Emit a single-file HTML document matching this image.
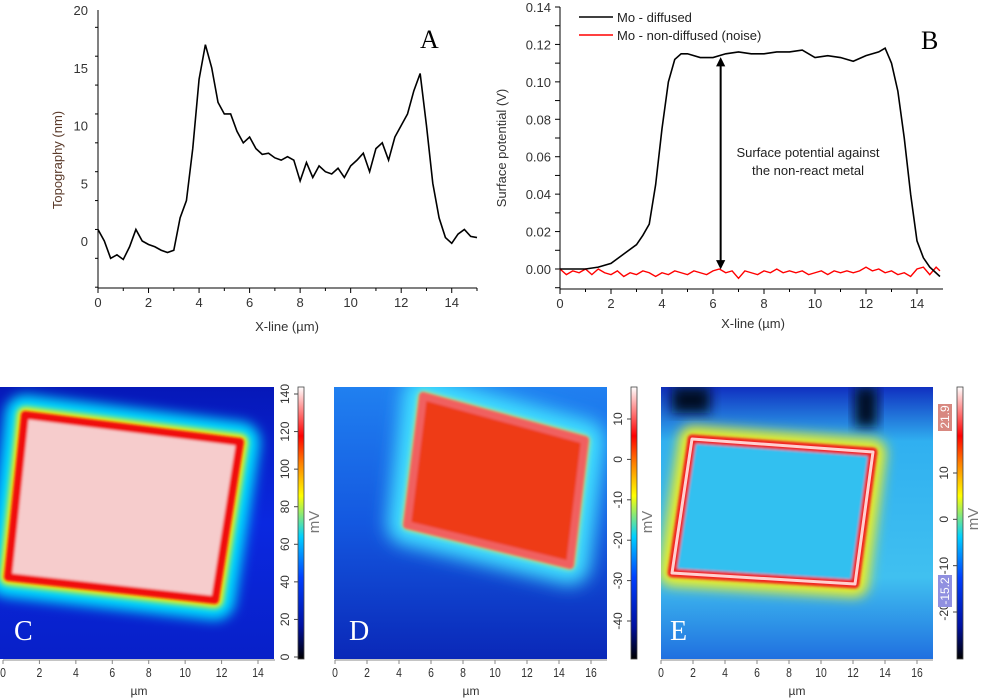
<!DOCTYPE html>
<html><head><meta charset="utf-8">
<style>
html,body{margin:0;padding:0;background:#fff;}
svg{display:block;font-family:"Liberation Sans",sans-serif;}
</style></head>
<body>
<svg id="fig" width="982" height="698" viewBox="0 0 982 698" xmlns="http://www.w3.org/2000/svg">
<defs>
  <filter id="blur8" x="-30%" y="-30%" width="160%" height="160%"><feGaussianBlur stdDeviation="9"/></filter>
  <filter id="blur6" x="-30%" y="-30%" width="160%" height="160%"><feGaussianBlur stdDeviation="6"/></filter>
  <filter id="blur3" x="-30%" y="-30%" width="160%" height="160%"><feGaussianBlur stdDeviation="3"/></filter>
  <filter id="blur1" x="-30%" y="-30%" width="160%" height="160%"><feGaussianBlur stdDeviation="1.2"/></filter>
  <linearGradient id="cbar" x1="0" y1="1" x2="0" y2="0">
    <stop offset="0" stop-color="#000"/>
    <stop offset="0.12" stop-color="#0010a0"/>
    <stop offset="0.3" stop-color="#0040ff"/>
    <stop offset="0.45" stop-color="#00d0ff"/>
    <stop offset="0.6" stop-color="#ffff00"/>
    <stop offset="0.72" stop-color="#ff8000"/>
    <stop offset="0.82" stop-color="#ff0000"/>
    <stop offset="1" stop-color="#ffffff"/>
  </linearGradient>
  <linearGradient id="bgC" x1="0" y1="0" x2="0" y2="1">
    <stop offset="0" stop-color="#0618b8"/>
    <stop offset="0.5" stop-color="#0a28e0"/>
    <stop offset="1" stop-color="#0820c8"/>
  </linearGradient>
  <linearGradient id="bgD" x1="0" y1="0" x2="0" y2="1">
    <stop offset="0" stop-color="#2080f0"/>
    <stop offset="0.5" stop-color="#1458e0"/>
    <stop offset="1" stop-color="#0a28b8"/>
  </linearGradient>
  <linearGradient id="bgE" x1="0" y1="0" x2="0" y2="1">
    <stop offset="0" stop-color="#1030c0"/>
    <stop offset="0.2" stop-color="#30b0f0"/>
    <stop offset="0.7" stop-color="#40c0f0"/>
    <stop offset="1" stop-color="#2070e0"/>
  </linearGradient>
</defs>
<g id="chartA"></g>
<g id="chartB"></g>

<!-- Heatmap C -->
<g>
  <clipPath id="clipC"><rect x="0" y="387" width="274" height="272"/></clipPath>
  <g clip-path="url(#clipC)">
    <rect x="0" y="387" width="274" height="272" fill="url(#bgC)"/>
    <polygon points="25,415 240,442 215,600 8,577" fill="none" stroke="#00e0ff" stroke-width="40" stroke-linejoin="round" filter="url(#blur6)"/>
    <polygon points="25,415 240,442 215,600 8,577" fill="none" stroke="#ffee00" stroke-width="16" stroke-linejoin="round" filter="url(#blur3)"/>
    <polygon points="25,415 240,442 215,600 8,577" fill="#f6cccc" stroke="#f01010" stroke-width="8" stroke-linejoin="round" filter="url(#blur1)"/>
  </g>
  <text x="14" y="640" font-family="Liberation Serif,serif" font-size="28" fill="#fff">C</text>
</g>
<!-- Heatmap D -->
<g>
  <clipPath id="clipD"><rect x="334" y="387" width="273" height="272"/></clipPath>
  <g clip-path="url(#clipD)">
    <rect x="334" y="387" width="273" height="272" fill="url(#bgD)"/>
    <polygon points="423,396 585,440 570,565 407,525" fill="none" stroke="#40e0ff" stroke-width="40" stroke-linejoin="round" filter="url(#blur8)"/>
    <polygon points="423,396 585,440 570,565 407,525" fill="none" stroke="#f0f040" stroke-width="8" stroke-linejoin="round" filter="url(#blur3)"/>
    <polygon points="423,396 585,440 570,565 407,525" fill="#ee3a14" stroke="#f06060" stroke-width="8" stroke-linejoin="round" filter="url(#blur1)"/>
  </g>
  <text x="349" y="640" font-family="Liberation Serif,serif" font-size="28" fill="#fff">D</text>
</g>
<!-- Heatmap E -->
<g>
  <clipPath id="clipE"><rect x="661" y="387" width="272" height="272"/></clipPath>
  <g clip-path="url(#clipE)">
    <rect x="661" y="387" width="272" height="272" fill="url(#bgE)"/>
    <rect x="672" y="387" width="38" height="26" fill="#000820" filter="url(#blur6)"/>
    <rect x="855" y="387" width="22" height="40" fill="#000820" filter="url(#blur6)"/>
    <polygon points="692,439 873,452 855,584 672,573" fill="none" stroke="#f0f020" stroke-width="26" stroke-linejoin="round" filter="url(#blur6)"/>
    <polygon points="692,439 873,452 855,584 672,573" fill="#30c0f0" stroke="#f02020" stroke-width="9" stroke-linejoin="round" filter="url(#blur1)"/>
    <polygon points="692,439 873,452 855,584 672,573" fill="none" stroke="#ffd0d0" stroke-width="3" stroke-linejoin="round"/>
  </g>
  <text x="670" y="640" font-family="Liberation Serif,serif" font-size="28" fill="#fff">E</text>
</g>
<g id="colorbars"></g>
<g id="heataxes"></g>
</svg>
<script>
// ===== Data: Topography (panel A) =====
const topoX = [0,0.25,0.5,0.75,1,1.25,1.5,1.75,2,2.25,2.5,2.75,3,3.25,3.5,3.75,4,4.25,4.5,4.75,5,5.25,5.5,5.75,6,6.25,6.5,6.75,7,7.25,7.5,7.75,8,8.25,8.5,8.75,9,9.25,9.5,9.75,10,10.25,10.5,10.75,11,11.25,11.5,11.75,12,12.25,12.5,12.75,13,13.25,13.5,13.75,14,14.25,14.5,14.75,15];
const topoY = [1,0,-1.5,-1.2,-1.6,-0.5,1,0,-0.3,-0.5,-0.8,-1,-0.8,2,3.5,8,14,17,15,12,11,11,9.5,8.5,9,8,7.5,7.6,7.2,7,7.3,7,5.2,6.8,5.5,6.5,6,5.8,6.3,5.5,6.5,7,7.6,6,8,8.5,7,9,10,11,13,14.5,10,5,2,0.3,-0.2,0.6,1,0.4,0.3];
const topoXTicks = [0,2,4,6,8,10,12,14];
const topoYTicks = [0,5,10,15,20];
// ===== Data: Surface potential (panel B) =====
const spX = [0,0.5,1,1.5,2,2.5,3,3.25,3.5,3.75,4,4.25,4.5,4.75,5,5.5,6,6.5,7,7.5,8,8.5,9,9.5,10,10.5,11,11.5,12,12.5,12.75,13,13.25,13.5,13.75,14,14.25,14.5,14.9];
const spDiffused = [0,0,0,0.001,0.003,0.008,0.013,0.018,0.024,0.045,0.075,0.1,0.112,0.115,0.115,0.113,0.113,0.115,0.116,0.115,0.115,0.116,0.116,0.117,0.113,0.114,0.113,0.111,0.114,0.116,0.118,0.11,0.095,0.07,0.04,0.015,0.006,0.001,-0.004];
const noiseX = [0,0.25,0.5,0.75,1,1.25,1.5,1.75,2,2.25,2.5,2.75,3,3.25,3.5,3.75,4,4.25,4.5,4.75,5,5.25,5.5,5.75,6,6.25,6.5,6.75,7,7.25,7.5,7.75,8,8.25,8.5,8.75,9,9.25,9.5,9.75,10,10.25,10.5,10.75,11,11.25,11.5,11.75,12,12.25,12.5,12.75,13,13.25,13.5,13.75,14,14.25,14.5,14.75,14.9];
const noiseY = [0,-0.003,-0.001,-0.002,0,-0.003,0,-0.002,-0.003,-0.001,-0.004,-0.002,-0.003,-0.001,-0.002,-0.004,-0.002,-0.003,-0.001,-0.002,-0.003,-0.001,-0.002,-0.003,-0.001,0,-0.002,-0.001,-0.005,-0.001,-0.002,-0.003,-0.001,-0.002,0,-0.002,-0.001,-0.002,-0.001,-0.003,-0.002,-0.001,-0.003,-0.001,-0.002,-0.001,-0.002,-0.001,0.001,-0.001,0,-0.002,-0.001,-0.003,-0.002,-0.004,0,0.001,-0.003,0.001,-0.001];
const spXTicks = [0,2,4,6,8,10,12,14];
const spYTicks = [0,0.02,0.04,0.06,0.08,0.10,0.12,0.14];
// ===== Heatmap axis/colorbar labels =====
const umTicks15 = [0,2,4,6,8,10,12,14];
const umTicks17 = [0,2,4,6,8,10,12,14,16];
const cbarC = [0,20,40,60,80,100,120,140];
const cbarD = [10,0,-10,-20,-30,-40];
const cbarE = [10,0,-10,-20];

const NS = "http://www.w3.org/2000/svg";
function mk(parent, tag, attrs, text){
  const e = document.createElementNS(NS, tag);
  for (const k in attrs) e.setAttribute(k, attrs[k]);
  if (text !== undefined) e.textContent = text;
  parent.appendChild(e);
  return e;
}
function lin(d0,d1,r0,r1){ return v => r0 + (v-d0)/(d1-d0)*(r1-r0); }

// ---------- Panel A ----------
(function(){
  const g = document.getElementById('chartA');
  const x = lin(0,15,98,477), y = lin(0,20,241,10);
  const ax = mk(g,'path',{d:`M98,10 V288 H477`,stroke:'#000',fill:'none','stroke-width':1});
  
  
  for (let v=0; v<=15; v++){ const t=mk(g,'line',{x1:x(v),x2:x(v),y1:288,y2:v%2?291:293,stroke:'#000'});   }
  topoXTicks.forEach(v=>{ const t=mk(g,'text',{x:x(v),y:307,'text-anchor':'middle','font-size':13,fill:'#333'},v);   });
  for (let v=-4; v<=20; v+=2.5){ const t=mk(g,'line',{x1:v%5===0?93:95,x2:98,y1:y(v),y2:y(v),stroke:'#000'});   }
  topoYTicks.forEach(v=>{ const t=mk(g,'text',{x:88,y:y(v)+5,'text-anchor':'end','font-size':13,fill:'#333'},v);   });
  let t=mk(g,'text',{x:287,y:331,'text-anchor':'middle','font-size':13,fill:'#333'},'X-line (µm)');
   
  t=mk(g,'text',{transform:'translate(62,160) rotate(-90)','text-anchor':'middle','font-size':13,fill:'#5a3a2a'},'Topography (nm)');
   
  t=mk(g,'text',{x:420,y:48,'font-family':'Liberation Serif,serif','font-size':26,fill:'#000'},'A');
   
  const p=mk(g,'polyline',{points:topoX.map((v,i)=>x(v)+','+y(topoY[i])).join(' '),fill:'none',stroke:'#000','stroke-width':1.6});
   
})();

// ---------- Panel B ----------
(function(){
  const g = document.getElementById('chartB');
  const x = lin(0,14,560,917), y = lin(0,0.14,269,7);
  const ax = mk(g,'path',{d:`M560,7 V289 H943`,stroke:'#000',fill:'none','stroke-width':1});
   
  for (let v=0; v<=14.9; v++){ const t=mk(g,'line',{x1:x(v),x2:x(v),y1:289,y2:v%2?292:294,stroke:'#000'});   }
  spXTicks.forEach(v=>{ const t=mk(g,'text',{x:x(v),y:308,'text-anchor':'middle','font-size':13,fill:'#333'},v);   });
  for (let v=-0.01; v<=0.1401; v+=0.01){ const t=mk(g,'line',{x1:555,x2:560,y1:y(v),y2:y(v),stroke:'#000'});   }
  spYTicks.forEach(v=>{ const t=mk(g,'text',{x:551,y:y(v)+5,'text-anchor':'end','font-size':13,fill:'#333'},v.toFixed(2));   });
  let t=mk(g,'text',{x:753,y:328,'text-anchor':'middle','font-size':13,fill:'#333'},'X-line (µm)');
   
  t=mk(g,'text',{transform:'translate(506,148) rotate(-90)','text-anchor':'middle','font-size':13,fill:'#333'},'Surface potential (V)');
   
  t=mk(g,'text',{x:921,y:49,'font-family':'Liberation Serif,serif','font-size':26,fill:'#000'},'B');
   
  let l=mk(g,'line',{x1:579,x2:613,y1:17,y2:17,stroke:'#000','stroke-width':1.6});  
  t=mk(g,'text',{x:617,y:22,'font-size':13,fill:'#222'},'Mo - diffused');  
  l=mk(g,'line',{x1:579,x2:613,y1:35,y2:35,stroke:'#f00','stroke-width':1.6});  
  t=mk(g,'text',{x:617,y:40,'font-size':13,fill:'#222'},'Mo - non-diffused (noise)');  
  let p=mk(g,'polyline',{points:noiseX.map((v,i)=>x(v)+','+y(noiseY[i])).join(' '),fill:'none',stroke:'#f00','stroke-width':1.4});
   
  p=mk(g,'polyline',{points:spX.map((v,i)=>x(v)+','+y(spDiffused[i])).join(' '),fill:'none',stroke:'#000','stroke-width':1.6});
   
  const ax0=x(6.3), ya=y(0.112), yb=y(0.001);
  p=mk(g,'path',{d:`M${ax0},${ya+4} V${yb-4} M${ax0-3},${ya+6} L${ax0},${ya} L${ax0+3},${ya+6} Z M${ax0-3},${yb-6} L${ax0},${yb} L${ax0+3},${yb-6} Z`,stroke:'#000','stroke-width':2,fill:'#000'});
   
  t=mk(g,'text',{x:808,y:157,'text-anchor':'middle','font-size':13,fill:'#222'},'Surface potential against');
   
  t=mk(g,'text',{x:808,y:175,'text-anchor':'middle','font-size':13,fill:'#222'},'the non-react metal');
   
})();

// ---------- Colorbars ----------
(function(){
  const g=document.getElementById('colorbars');
  function bar(x0, labels, yOf, name, mvY){
    const r=mk(g,'rect',{x:x0,y:387,width:6,height:272,fill:'url(#cbar)',stroke:'#444','stroke-width':0.8});
     
    labels.forEach(v=>{
      const yy=yOf(v);
      mk(g,'line',{x1:x0-4,x2:x0,y1:yy,y2:yy,stroke:'#444'});
      const t=mk(g,'text',{transform:`translate(${x0-9},${yy}) rotate(-90)`,'text-anchor':'middle','font-size':12,fill:'#333'},v);
       
    });
    const t=mk(g,'text',{transform:`translate(${x0+21},${mvY}) rotate(-90)`,'text-anchor':'middle','font-size':15,fill:'#777'},'mV');
     
  }
  bar(298, cbarC, lin(0,140,657,394), 'colorbar-c', 522);
  bar(631, cbarD, lin(10,-40,419,621), 'colorbar-d', 522);
  bar(957, cbarE, lin(10,-20,473,612), 'colorbar-e', 519);
  let r=mk(g,'rect',{x:938,y:404,width:14,height:27,fill:'#d88880'});  
  let t=mk(g,'text',{transform:'translate(949,417) rotate(-90)','text-anchor':'middle','font-size':12,fill:'#fff'},'21.9');  
  r=mk(g,'rect',{x:938,y:575,width:14,height:32,fill:'#9090e0'});  
  t=mk(g,'text',{transform:'translate(949,591) rotate(-90)','text-anchor':'middle','font-size':12,fill:'#fff'},'-15.2');  
})();

// ---------- Heatmap x axes ----------
(function(){
  const g=document.getElementById('heataxes');
  function axis(x0, x1, maxV, ticks, name){
    const x=lin(0,maxV,x0,x1);
    const l=mk(g,'line',{x1:x0,x2:x0+272,y1:660,y2:660,stroke:'#888'});  
    ticks.forEach(v=>{
      mk(g,'line',{x1:x(v),x2:x(v),y1:660,y2:664,stroke:'#888'});
      const t=mk(g,'text',{x:x(v),y:677,'text-anchor':'middle','font-size':13,fill:'#333',transform:`translate(${x(v)},0) scale(0.8,1) translate(${-x(v)},0)`},v);
       
    });
    const t=mk(g,'text',{x:x0+136,y:695,'text-anchor':'middle','font-size':12,fill:'#333'},'µm');
     
  }
  axis(3, 258, 14, umTicks15, 'x-axis-c');
  axis(335, 591, 16, umTicks17, 'x-axis-d');
  axis(661, 917, 16, umTicks17, 'x-axis-e');
})();
</script>
</body></html>
